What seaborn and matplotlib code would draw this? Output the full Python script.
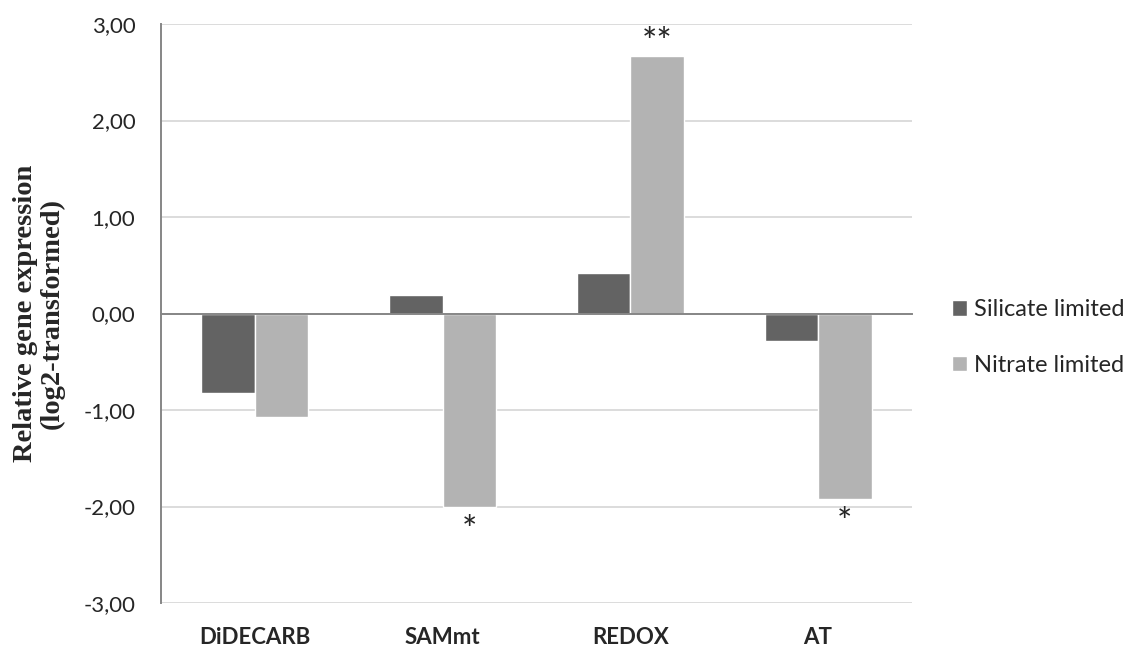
import pandas as pd
import matplotlib.pyplot as plt
import matplotlib.transforms as mtransforms
import seaborn as sns

# Chart data
genes = ["DiDECARB", "SAMmt", "REDOX", "AT"]
silicate = [-0.82, 0.19, 0.42, -0.28]
nitrate = [-1.07, -2.01, 2.67, -1.92]
silicate_sig = ["", "", "", ""]
nitrate_sig = ["", "*", "**", "*"]
conditions = ["Silicate limited", "Nitrate limited"]
yticks = [-3, -2, -1, 0, 1, 2, 3]

df = pd.DataFrame({
    "gene": genes * 2,
    "value": silicate + nitrate,
    "condition": [conditions[0]] * 4 + [conditions[1]] * 4,
})

sns.set_style("white")
plt.rcParams["font.family"] = ["Lato", "DejaVu Sans"]

fig = plt.figure(figsize=(11.37, 6.48), dpi=100)
ax = fig.add_axes([0.1416, 0.0694, 0.6605, 0.8935])

sns.barplot(data=df, x="gene", y="value", hue="condition", order=genes,
            hue_order=conditions, palette=["#636363", "#b3b3b3"],
            width=0.57, gap=0, saturation=1, ax=ax, legend=True)

ax.set_ylim(-3, 3)
ax.set_xlim(-0.5, len(genes) - 0.5)
ax.set_yticks(yticks)
ax.set_yticklabels([f"{v:.2f}".replace(".", ",") for v in yticks], fontsize=16)
for v in yticks:
    ax.axhline(v, color="#d9d9d9", lw=1.3, zorder=0)

# axes styling
for s in ["top", "right"]:
    ax.spines[s].set_visible(False)
ax.spines["left"].set_color("#868686")
ax.spines["left"].set_linewidth(1.4)
ax.spines["bottom"].set_position(("data", 0))
ax.spines["bottom"].set_color("#868686")
ax.spines["bottom"].set_linewidth(1.4)
ax.tick_params(axis="y", which="major", length=6.5, width=1.4, color="#868686",
               direction="out", pad=12)
ax.set_xticks([i - 0.5 for i in range(len(genes) + 1)])
ax.set_xticklabels([])
ax.tick_params(axis="x", length=6.5, width=1.4, color="#868686", direction="out")
ax.set_xlabel("")

trans = mtransforms.blended_transform_factory(ax.transData, ax.transAxes)
for i, g in enumerate(genes):
    ax.text(i, -0.0587, g, transform=trans, ha="center", va="center",
            fontsize=16, fontweight="bold")

ax.set_ylabel("Relative gene expression\n(log2-transformed)",
              family="Liberation Serif", fontweight="bold", fontsize=20.5,
              linespacing=1.1, labelpad=13)

# significance marks
for container, sigs in zip(ax.containers, [silicate_sig, nitrate_sig]):
    for bar, s in zip(container, sigs):
        if not s:
            continue
        x = bar.get_x() + bar.get_width() / 2
        h = bar.get_height()
        if h >= 0:
            ax.text(x, h + 0.02, s, ha="center", va="baseline", fontsize=26)
        else:
            ax.text(x, h - 0.36, s, ha="center", va="baseline", fontsize=26)

ax.legend(loc="center left", bbox_to_anchor=(0.8373, 0.479),
          bbox_transform=fig.transFigure, frameon=False, borderpad=0,
          borderaxespad=0, fontsize=17, handlelength=0.64, handleheight=0.64,
          handletextpad=0.3, labelspacing=1.45)

fig.savefig("out.png", dpi=100)
